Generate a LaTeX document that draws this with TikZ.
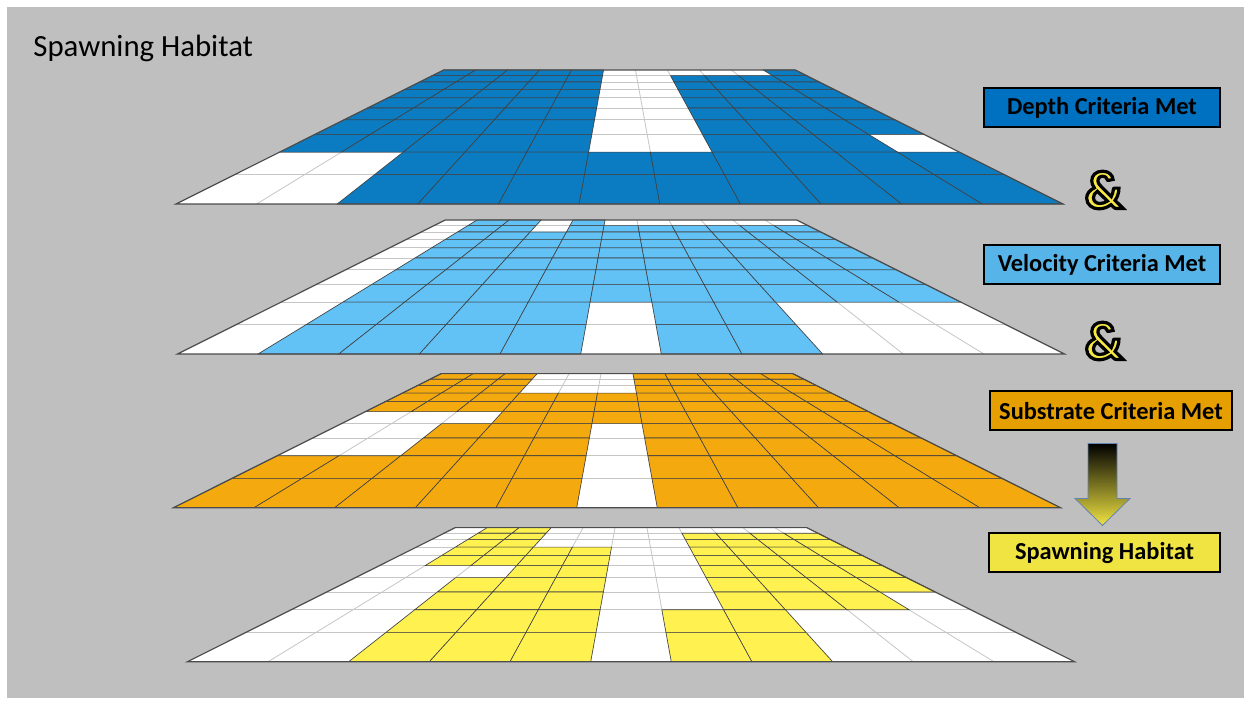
\documentclass[tikz,border=0pt]{standalone}
\usepackage{fontspec}
\setmainfont{Carlito}
\usetikzlibrary{calc}

\definecolor{bggray}{RGB}{191,191,191}
\definecolor{depthblue}{RGB}{12,124,194}
\definecolor{depthbox}{RGB}{0,112,192}
\definecolor{velblue}{RGB}{98,193,245}
\definecolor{velbox}{RGB}{86,180,233}
\definecolor{suborange}{RGB}{244,170,14}
\definecolor{subbox}{RGB}{230,159,0}
\definecolor{spawnyellow}{RGB}{255,242,80}
\definecolor{spawnbox}{RGB}{240,228,66}
\definecolor{ampyellow}{RGB}{245,232,70}
\definecolor{arrowedge}{RGB}{100,130,180}

\tikzset{
  declare function={gridx(\a,\c,\i)=\a+(\c/11-0.5)*887/(1+0.1525*\i);
                    gridy(\b,\i)=\b-222*(1-1/(1+0.1525*\i));},
  critbox/.style={draw=black, line width=1pt, font=\bfseries\fontsize{12.2}{14}\selectfont, minimum height=19.5pt, inner sep=0pt},
  amp/.style={font=\bfseries\fontsize{27}{30}\selectfont, inner sep=0pt}
}

% outlined ampersand: yellow fill, black stroke
\newcommand{\outlineamp}{\textcolor{ampyellow}{\special{pdf:literal direct 0 0 0 RG 1.6 w 2 Tr}\&\special{pdf:literal direct 0 Tr}}}

% one layer: centre x, bottom y, colour, row/{filled columns}
\newcommand{\layer}[4]{%
  \fill[white] ({gridx(#1,0,0)},{gridy(#2,0)}) -- ({gridx(#1,11,0)},{gridy(#2,0)}) -- ({gridx(#1,11,10)},{gridy(#2,10)}) -- ({gridx(#1,0,10)},{gridy(#2,10)}) -- cycle;
  \foreach \i in {1,...,9}
    \draw[gray!45, line width=0.4pt] ({gridx(#1,0,\i)},{gridy(#2,\i)}) -- ({gridx(#1,11,\i)},{gridy(#2,\i)});
  \foreach \c in {1,...,10}
    \draw[gray!45, line width=0.4pt] ({gridx(#1,\c,0)},{gridy(#2,0)}) -- ({gridx(#1,\c,10)},{gridy(#2,10)});
  \foreach \r/\cols in {#4}{
    \pgfmathtruncatemacro{\ilo}{10-\r}
    \pgfmathtruncatemacro{\ihi}{11-\r}
    \foreach \c in \cols
      \filldraw[fill=#3, draw=black!75, line width=0.3pt] ({gridx(#1,\c-1,\ilo)},{gridy(#2,\ilo)}) -- ({gridx(#1,\c,\ilo)},{gridy(#2,\ilo)}) -- ({gridx(#1,\c,\ihi)},{gridy(#2,\ihi)}) -- ({gridx(#1,\c-1,\ihi)},{gridy(#2,\ihi)}) -- cycle;
  }
  \draw[black!70, line width=0.6pt] ({gridx(#1,0,0)},{gridy(#2,0)}) -- ({gridx(#1,11,0)},{gridy(#2,0)}) -- ({gridx(#1,11,10)},{gridy(#2,10)}) -- ({gridx(#1,0,10)},{gridy(#2,10)}) -- cycle;
}

\begin{document}
\begin{tikzpicture}[x=0.5pt, y=-0.5pt]
\useasboundingbox (0,0) rectangle (1250,704);
\fill[white] (0,0) rectangle (1250,704);
\fill[bggray] (7,7) rectangle (1244,698);

\node[anchor=base west, inner sep=0pt, font=\fontsize{15.4}{18}\selectfont] (title) at (33,57) {Spawning Habitat};

% the four layers
\layer{619.5}{204}{depthblue}{1/{1,2,3,4,5,11},2/{1,2,3,4,5,8,9,10,11},3/{1,2,3,4,5,8,9,10,11},%
  4/{1,2,3,4,5,8,9,10,11},5/{1,2,3,4,5,8,9,10,11},6/{1,2,3,4,5,8,9,10,11},7/{1,2,3,4,5,8,9,10,11},%
  8/{1,2,3,4,5,8,9,10},9/{3,4,5,6,7,8,9,10,11},10/{3,4,5,6,7,8,9,10,11}}
\layer{621}{354}{velblue}{1/{2,3,5},2/{2,3,5,6,7,8,9,10,11},3/{2,3,4,5,6,7,8,9,10,11},%
  4/{2,3,4,5,6,7,8,9,10,11},5/{2,3,4,5,6,7,8,9,10,11},6/{2,3,4,5,6,7,8,9,10,11},7/{2,3,4,5,6,7,8,9,10,11},%
  8/{2,3,4,5,6,7,8,9,10,11},9/{2,3,4,5,7,8},10/{2,3,4,5,7,8}}
\layer{617}{507.7}{suborange}{1/{1,2,3,7,8,9,10,11},2/{1,2,3,7,8,9,10,11},3/{1,2,3,7,8,9,10,11},%
  4/{1,2,3,4,5,6,7,8,9,10,11},5/{1,2,3,4,5,6,7,8,9,10,11},6/{4,5,6,7,8,9,10,11},7/{3,4,5,7,8,9,10,11},%
  8/{3,4,5,7,8,9,10,11},9/{1,2,3,4,5,7,8,9,10,11},10/{1,2,3,4,5,7,8,9,10,11}}
\layer{631}{661.7}{spawnyellow}{1/{2,3},2/{2,3,8,9,10,11},3/{2,3,8,9,10,11},%
  4/{2,3,4,5,8,9,10,11},5/{2,3,4,5,8,9,10,11},6/{4,5,8,9,10,11},7/{3,4,5,8,9,10,11},%
  8/{3,4,5,8,9,10},9/{3,4,5,7,8},10/{3,4,5,7,8}}

% labels
\node[critbox, fill=depthbox, minimum width=118pt] (depth) at (1102,107.5) {Depth Criteria Met};
\node[critbox, fill=velbox, minimum width=118pt] (vel) at (1102,264.5) {Velocity Criteria Met};
\node[critbox, fill=subbox, minimum width=121pt] (sub) at (1111,411) {Substrate Criteria Met};
\node[critbox, fill=spawnbox, minimum width=115.5pt] (spawn) at (1104.5,553) {Spawning Habitat};

\node[amp] (and1) at (1104,190) {\outlineamp};
\node[amp] (and2) at (1104,341) {\outlineamp};

% block arrow
\coordinate (atop) at ($(sub.south)+(-8.5,12)$);
\shade[top color=black, bottom color=spawnbox, draw=arrowedge, line width=0.4pt]
  ($(atop)+(-14.5,0)$) -- ++(29,0) -- ++(0,55) -- ++(13,0) -- ++(-27.5,27) -- ++(-27.5,-27) -- ++(13,0) -- cycle;
\end{tikzpicture}
\end{document}
